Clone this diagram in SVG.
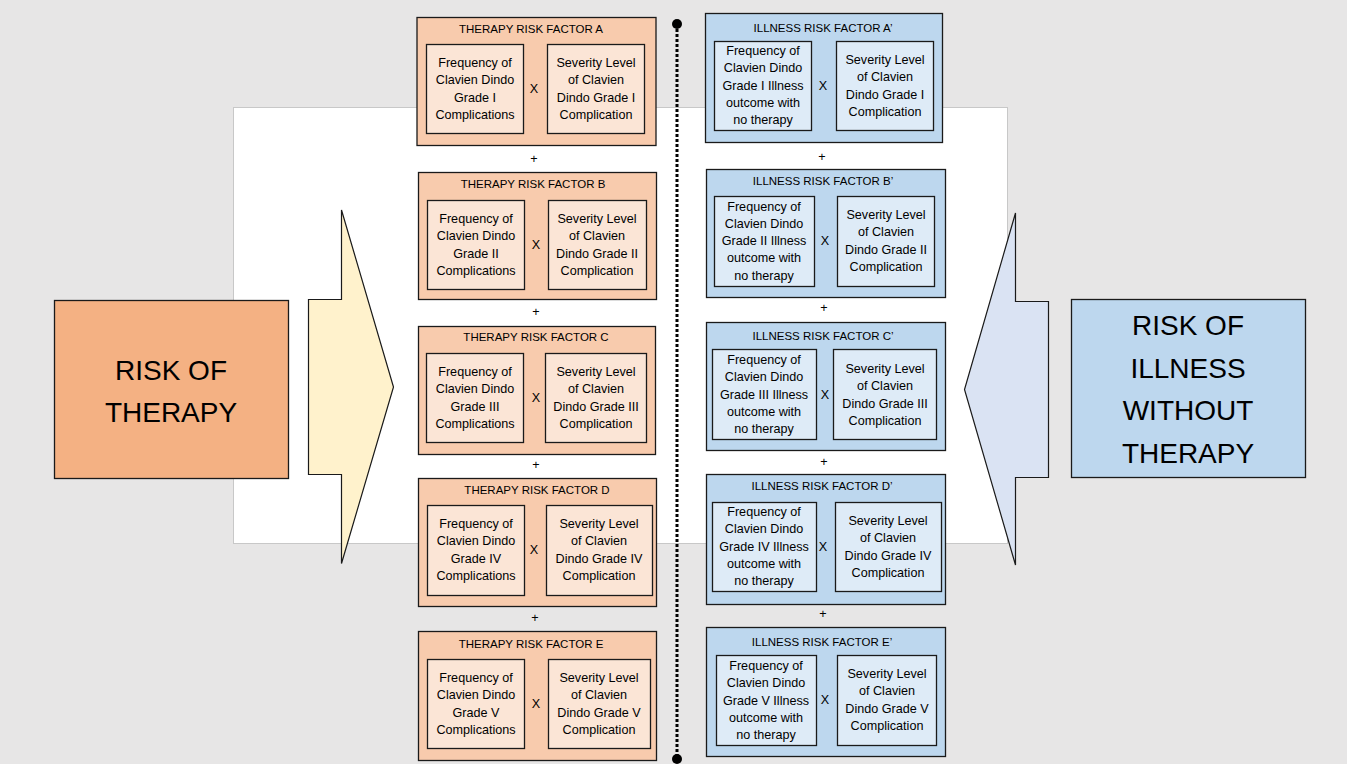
<svg xmlns="http://www.w3.org/2000/svg" width="1347" height="764" viewBox="0 0 1347 764">
<style>
text{font-family:"Liberation Sans",Arial,sans-serif;fill:#000;text-anchor:middle;dominant-baseline:central}
.t{font-size:11.5px}
.s{font-size:12.6px}
.big{font-size:28px}
.to{fill:#f8cbad;stroke:#1a1a1a;stroke-width:1.3}
.ti{fill:#fbe5d6;stroke:#1a1a1a;stroke-width:1.3}
.io{fill:#bdd7ee;stroke:#1a1a1a;stroke-width:1.3}
.ii{fill:#deebf7;stroke:#1a1a1a;stroke-width:1.3}
</style>
<rect x="0" y="0" width="1347" height="764" fill="#e7e6e6"/>
<rect x="233.5" y="107.5" width="774" height="436" fill="#ffffff" stroke="#c8c8c8" stroke-width="1"/>

<g id="risk-of-therapy">
<rect x="54.5" y="300.5" width="234" height="178" fill="#f4b183" stroke="#1a1a1a" stroke-width="1.3"/>
<text class="big" x="171" y="370">RISK OF</text>
<text class="big" x="171" y="412">THERAPY</text>
</g>
<g id="arrow-right">
<polygon points="308.5,299.5 341.5,299.5 341.5,210 393.5,387 341.5,563.5 341.5,474.5 308.5,474.5" fill="#fff2cc" stroke="#1a1a1a" stroke-width="1.2"/>
</g>
<g id="risk-of-illness">
<rect x="1071.5" y="299.5" width="234" height="178" fill="#bdd7ee" stroke="#1a1a1a" stroke-width="1.3"/>
<text class="big" x="1188" y="325">RISK OF</text>
<text class="big" x="1188" y="368">ILLNESS</text>
<text class="big" x="1188" y="410">WITHOUT</text>
<text class="big" x="1188" y="453">THERAPY</text>
</g>
<g id="arrow-left">
<polygon points="1048.5,301.5 1015.5,301.5 1015.5,213 964.5,389.5 1015.5,565 1015.5,477.5 1048.5,477.5" fill="#dae3f3" stroke="#1a1a1a" stroke-width="1.2"/>
</g>

<g id="connectors">
<line x1="677" y1="24" x2="677" y2="759" stroke="#000" stroke-width="3" stroke-dasharray="3,2"/>
<circle cx="677" cy="24" r="5" fill="#000"/>
<circle cx="677" cy="759" r="5" fill="#000"/>
<text class="s" x="534" y="159">+</text>
<text class="s" x="536" y="312">+</text>
<text class="s" x="536" y="465">+</text>
<text class="s" x="535" y="618">+</text>
<text class="s" x="822" y="157">+</text>
<text class="s" x="824" y="308">+</text>
<text class="s" x="824" y="462">+</text>
<text class="s" x="823" y="614">+</text>
</g>

<g id="therapy-a">
<rect class="to" x="417" y="17.5" width="239" height="128"/>
<text class="t" x="531" y="29">THERAPY RISK FACTOR A</text>
<rect class="ti" x="426.5" y="44.5" width="97" height="89"/>
<text class="s" x="475" y="63">Frequency of</text><text class="s" x="475" y="80.3">Clavien Dindo</text><text class="s" x="475" y="97.6">Grade I</text><text class="s" x="475" y="115">Complications</text>
<text class="s" x="534" y="89">X</text>
<rect class="ti" x="547.5" y="44.5" width="97" height="89"/>
<text class="s" x="596" y="63">Severity Level</text><text class="s" x="596" y="80.3">of Clavien</text><text class="s" x="596" y="97.6">Dindo Grade I</text><text class="s" x="596" y="115">Complication</text>
</g>

<g id="therapy-b">
<rect class="to" x="418.5" y="172.5" width="238" height="127"/>
<text class="t" x="533" y="184">THERAPY RISK FACTOR B</text>
<rect class="ti" x="427.5" y="200.5" width="97" height="89"/>
<text class="s" x="476" y="219">Frequency of</text><text class="s" x="476" y="236.3">Clavien Dindo</text><text class="s" x="476" y="253.6">Grade II</text><text class="s" x="476" y="271">Complications</text>
<text class="s" x="536" y="245">X</text>
<rect class="ti" x="548.5" y="200.5" width="98" height="89"/>
<text class="s" x="597" y="219">Severity Level</text><text class="s" x="597" y="236.3">of Clavien</text><text class="s" x="597" y="253.6">Dindo Grade II</text><text class="s" x="597" y="271">Complication</text>
</g>

<g id="therapy-c">
<rect class="to" x="418.5" y="326.5" width="237" height="128"/>
<text class="t" x="536" y="337">THERAPY RISK FACTOR C</text>
<rect class="ti" x="426.5" y="353.5" width="97" height="89"/>
<text class="s" x="475" y="372">Frequency of</text><text class="s" x="475" y="389.3">Clavien Dindo</text><text class="s" x="475" y="406.6">Grade III</text><text class="s" x="475" y="424">Complications</text>
<text class="s" x="536" y="398">X</text>
<rect class="ti" x="545.5" y="353.5" width="101" height="89"/>
<text class="s" x="596" y="372">Severity Level</text><text class="s" x="596" y="389.3">of Clavien</text><text class="s" x="596" y="406.6">Dindo Grade III</text><text class="s" x="596" y="424">Complication</text>
</g>

<g id="therapy-d">
<rect class="to" x="418.5" y="478.5" width="238" height="128"/>
<text class="t" x="537" y="490">THERAPY RISK FACTOR D</text>
<rect class="ti" x="427.5" y="505.5" width="97" height="90"/>
<text class="s" x="476" y="524">Frequency of</text><text class="s" x="476" y="541.3">Clavien Dindo</text><text class="s" x="476" y="558.6">Grade IV</text><text class="s" x="476" y="576">Complications</text>
<text class="s" x="534" y="550">X</text>
<rect class="ti" x="546.5" y="505.5" width="106" height="90"/>
<text class="s" x="599" y="524">Severity Level</text><text class="s" x="599" y="541.3">of Clavien</text><text class="s" x="599" y="558.6">Dindo Grade IV</text><text class="s" x="599" y="576">Complication</text>
</g>

<g id="therapy-e">
<rect class="to" x="418.5" y="631.5" width="238" height="129"/>
<text class="t" x="531" y="644">THERAPY RISK FACTOR E</text>
<rect class="ti" x="427.5" y="659.5" width="97" height="89"/>
<text class="s" x="476" y="678">Frequency of</text><text class="s" x="476" y="695.3">Clavien Dindo</text><text class="s" x="476" y="712.6">Grade V</text><text class="s" x="476" y="730">Complications</text>
<text class="s" x="536" y="704">X</text>
<rect class="ti" x="548.5" y="659.5" width="102" height="89"/>
<text class="s" x="599" y="678">Severity Level</text><text class="s" x="599" y="695.3">of Clavien</text><text class="s" x="599" y="712.6">Dindo Grade V</text><text class="s" x="599" y="730">Complication</text>
</g>

<g id="illness-a">
<rect class="io" x="705.5" y="13.5" width="237" height="129"/>
<text class="t" x="823" y="28">ILLNESS RISK FACTOR A’</text>
<rect class="ii" x="714.5" y="41.5" width="97" height="89"/>
<text class="s" x="763" y="51">Frequency of</text><text class="s" x="763" y="68.3">Clavien Dindo</text><text class="s" x="763" y="85.6">Grade I Illness</text><text class="s" x="763" y="103">outcome with</text><text class="s" x="763" y="120.3">no therapy</text>
<text class="s" x="823" y="86">X</text>
<rect class="ii" x="836.5" y="41.5" width="97" height="89"/>
<text class="s" x="885" y="60">Severity Level</text><text class="s" x="885" y="77.3">of Clavien</text><text class="s" x="885" y="94.6">Dindo Grade I</text><text class="s" x="885" y="112">Complication</text>
</g>

<g id="illness-b">
<rect class="io" x="706.5" y="169.5" width="239" height="128"/>
<text class="t" x="823" y="181">ILLNESS RISK FACTOR B’</text>
<rect class="ii" x="714.5" y="196.5" width="100" height="90"/>
<text class="s" x="764" y="206.5">Frequency of</text><text class="s" x="764" y="223.8">Clavien Dindo</text><text class="s" x="764" y="241.1">Grade II Illness</text><text class="s" x="764" y="258.4">outcome with</text><text class="s" x="764" y="275.7">no therapy</text>
<text class="s" x="825" y="241">X</text>
<rect class="ii" x="837.5" y="196.5" width="97" height="90"/>
<text class="s" x="886" y="215">Severity Level</text><text class="s" x="886" y="232.3">of Clavien</text><text class="s" x="886" y="249.6">Dindo Grade II</text><text class="s" x="886" y="267">Complication</text>
</g>

<g id="illness-c">
<rect class="io" x="706.5" y="322.5" width="239" height="128"/>
<text class="t" x="823" y="336">ILLNESS RISK FACTOR C’</text>
<rect class="ii" x="712.5" y="349.5" width="104" height="90"/>
<text class="s" x="764" y="360">Frequency of</text><text class="s" x="764" y="377.3">Clavien Dindo</text><text class="s" x="764" y="394.6">Grade III Illness</text><text class="s" x="764" y="411.9">outcome with</text><text class="s" x="764" y="429.2">no therapy</text>
<text class="s" x="825" y="395">X</text>
<rect class="ii" x="833.5" y="349.5" width="103" height="90"/>
<text class="s" x="885" y="369">Severity Level</text><text class="s" x="885" y="386.3">of Clavien</text><text class="s" x="885" y="403.6">Dindo Grade III</text><text class="s" x="885" y="421">Complication</text>
</g>

<g id="illness-d">
<rect class="io" x="706.5" y="474.5" width="239" height="130"/>
<text class="t" x="822" y="486">ILLNESS RISK FACTOR D’</text>
<rect class="ii" x="712.5" y="502.5" width="104" height="89"/>
<text class="s" x="764" y="512">Frequency of</text><text class="s" x="764" y="529.3">Clavien Dindo</text><text class="s" x="764" y="546.6">Grade IV Illness</text><text class="s" x="764" y="563.9">outcome with</text><text class="s" x="764" y="581.2">no therapy</text>
<text class="s" x="823" y="547">X</text>
<rect class="ii" x="835.5" y="502.5" width="106" height="89"/>
<text class="s" x="888" y="521">Severity Level</text><text class="s" x="888" y="538.3">of Clavien</text><text class="s" x="888" y="555.6">Dindo Grade IV</text><text class="s" x="888" y="573">Complication</text>
</g>

<g id="illness-e">
<rect class="io" x="706.5" y="627.5" width="239" height="129"/>
<text class="t" x="822" y="642">ILLNESS RISK FACTOR E’</text>
<rect class="ii" x="716.5" y="655.5" width="100" height="90"/>
<text class="s" x="766" y="666">Frequency of</text><text class="s" x="766" y="683.3">Clavien Dindo</text><text class="s" x="766" y="700.6">Grade V Illness</text><text class="s" x="766" y="717.9">outcome with</text><text class="s" x="766" y="735.2">no therapy</text>
<text class="s" x="825" y="700">X</text>
<rect class="ii" x="837.5" y="655.5" width="99" height="90"/>
<text class="s" x="887" y="674">Severity Level</text><text class="s" x="887" y="691.3">of Clavien</text><text class="s" x="887" y="708.6">Dindo Grade V</text><text class="s" x="887" y="726">Complication</text>
</g>
</svg>
